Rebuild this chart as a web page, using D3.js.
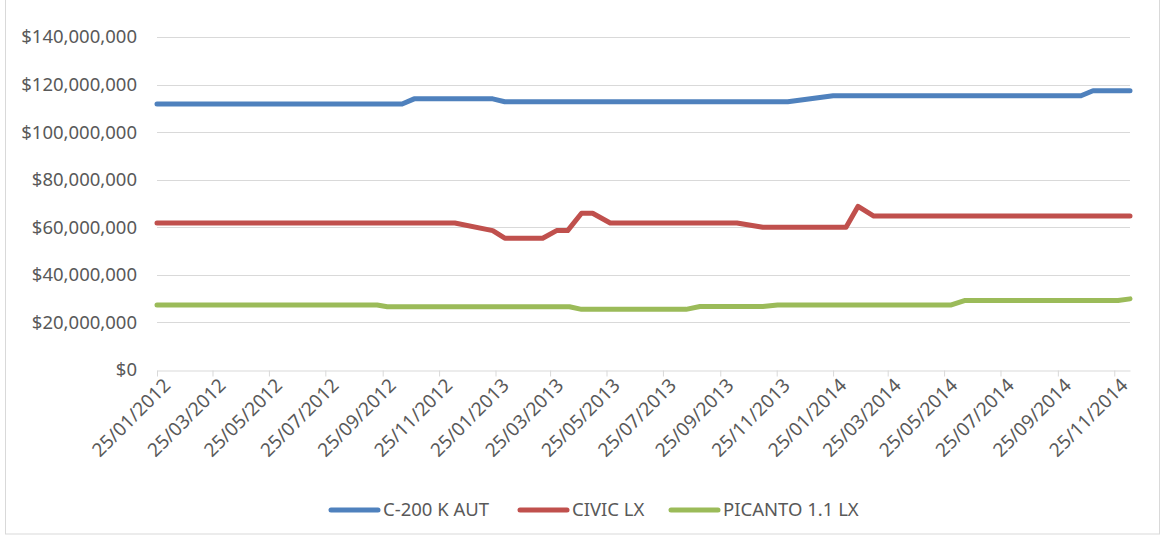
<!DOCTYPE html>
<html>
<head>
<meta charset="utf-8">
<script src="https://cdnjs.cloudflare.com/ajax/libs/d3/7.8.5/d3.min.js"></script>
<style>
  body { margin: 0; background: #fff; }
  text { font-family: 'Noto Sans', 'Open Sans', sans-serif; fill: #595959; }
</style>
</head>
<body>
<div id="chart"></div>
<script>
const seriesNames = ['C-200 K AUT', 'CIVIC LX', 'PICANTO 1.1 LX']
const seriesColors = ['#4f81bd', '#c0504d', '#9bbb59']

// points where each line changes (dd/mm/yyyy, price in $)
const c200Dates = ['25/01/2012', '16/10/2012', '29/10/2012', '22/01/2013', '04/02/2013',
  '07/12/2013', '25/01/2014', '20/10/2014', '02/11/2014', '12/12/2014']
const c200Values = [111800000, 111800000, 114000000, 114000000, 112800000,
  112800000, 115300000, 115300000, 117400000, 117400000]

const civicDates = ['25/01/2012', '12/12/2012', '22/01/2013', '04/02/2013', '17/03/2013',
  '01/04/2013', '13/04/2013', '28/04/2013', '10/05/2013', '29/05/2013', '13/10/2013',
  '10/11/2013', '08/02/2014', '21/02/2014', '10/03/2014', '12/12/2014']
const civicValues = [61800000, 61800000, 58600000, 55400000, 55400000,
  58600000, 58600000, 65900000, 65900000, 61800000, 61800000,
  60000000, 60000000, 68800000, 64700000, 64700000]

const picantoDates = ['25/01/2012', '19/09/2012', '30/09/2012', '15/04/2013', '28/04/2013',
  '19/08/2013', '03/09/2013', '10/11/2013', '26/11/2013', '01/06/2014', '16/06/2014',
  '29/11/2014', '12/12/2014']
const picantoValues = [27300000, 27300000, 26600000, 26600000, 25500000,
  25500000, 26700000, 26700000, 27300000, 27300000, 29200000,
  29200000, 29900000]

const tickLabels = ['25/01/2012', '25/03/2012', '25/05/2012', '25/07/2012', '25/09/2012',
  '25/11/2012', '25/01/2013', '25/03/2013', '25/05/2013', '25/07/2013', '25/09/2013',
  '25/11/2013', '25/01/2014', '25/03/2014', '25/05/2014', '25/07/2014', '25/09/2014',
  '25/11/2014']
const yTicks = [0, 20000000, 40000000, 60000000, 80000000, 100000000, 120000000, 140000000]

;(function() {
  let margin = { top: 37, left: 157, right: 35, bottom: 166 }
  let totalW = 1165
  let totalH = 536
  let width = totalW - margin.left - margin.right
  let height = totalH - margin.top - margin.bottom

  let parse = d3.timeParse('%d/%m/%Y')

  let root = d3.select('#chart')
    .append('svg')
    .attr('width', totalW)
    .attr('height', totalH)

  // outer chart frame
  root.append('rect')
    .attr('x', 5.5)
    .attr('y', -1)
    .attr('width', 1154)
    .attr('height', 535)
    .attr('fill', 'none')
    .attr('stroke', '#d9d9d9')

  let svg = root.append('g')
    .attr('transform', `translate(${margin.left}, ${margin.top})`)

  let series = [
    { name: seriesNames[0], color: seriesColors[0], dates: c200Dates, values: c200Values },
    { name: seriesNames[1], color: seriesColors[1], dates: civicDates, values: civicValues },
    { name: seriesNames[2], color: seriesColors[2], dates: picantoDates, values: picantoValues }
  ].map(s => ({
    name: s.name,
    color: s.color,
    points: s.dates.map((d, i) => ({ date: parse(d), value: s.values[i] }))
  }))

  let xPositionScale = d3.scaleTime()
    .domain([parse(tickLabels[0]), parse(c200Dates[c200Dates.length - 1])])
    .range([0, width])

  let yPositionScale = d3.scaleLinear()
    .domain([0, 140000000])
    .range([height, 0])

  // gridlines
  svg.append('g')
    .selectAll('.grid')
    .data(yTicks.slice(1))
    .enter()
    .append('line')
    .attr('class', 'grid')
    .attr('x1', 0)
    .attr('x2', width)
    .attr('y1', d => Math.round(yPositionScale(d)) + 0.5)
    .attr('y2', d => Math.round(yPositionScale(d)) + 0.5)
    .attr('stroke', '#d9d9d9')
    .attr('stroke-width', 1)

  // y axis labels
  const yAxis = d3.axisLeft(yPositionScale)
    .tickValues(yTicks)
    .tickFormat(d3.format('$,'))
    .tickSize(0)
    .tickPadding(20)
  svg.append('g')
    .attr('class', 'axis y-axis')
    .call(yAxis)
    .call(g => g.select('.domain').remove())
    .selectAll('text')
    .style('font-size', '18.5px')
    .attr('fill', '#595959')

  // x axis
  const xAxis = d3.axisBottom(xPositionScale)
    .tickValues(tickLabels.map(parse))
    .tickFormat(d3.timeFormat('%d/%m/%Y'))
    .tickSizeInner(6)
    .tickSizeOuter(0)
  let xg = svg.append('g')
    .attr('class', 'axis x-axis')
    .attr('transform', `translate(0,${height + 0.5})`)
    .call(xAxis)
  xg.select('.domain').attr('stroke', '#d9d9d9')
  xg.selectAll('.tick line').attr('stroke', '#d9d9d9')
  xg.selectAll('.tick text')
    .style('font-size', '19px')
    .attr('fill', '#595959')
    .attr('text-anchor', 'end')
    .attr('dy', '0.35em')
    .attr('transform', 'translate(3,5) rotate(-45)')

  let line = d3.line()
    .x(d => xPositionScale(d.date))
    .y(d => yPositionScale(d.value))

  svg.append('g')
    .selectAll('.series')
    .data(series)
    .enter()
    .append('path')
    .attr('class', 'series')
    .attr('d', d => line(d.points))
    .attr('fill', 'none')
    .attr('stroke', d => d.color)
    .attr('stroke-width', 5)
    .attr('stroke-linejoin', 'round')
    .attr('stroke-linecap', 'round')

  // legend
  let legendX = [331, 520, 671]
  let legend = root.append('g')
    .selectAll('.legend')
    .data(series)
    .enter()
    .append('g')
    .attr('class', 'legend')
    .attr('transform', (d, i) => `translate(${legendX[i]}, 510)`)

  legend.append('line')
    .attr('x1', 0)
    .attr('x2', 47)
    .attr('stroke', d => d.color)
    .attr('stroke-width', 5)
    .attr('stroke-linecap', 'round')

  legend.append('text')
    .attr('x', 52)
    .attr('dy', '0.35em')
    .style('font-size', '18.5px')
    .text(d => d.name)
})()
</script>
</body>
</html>
